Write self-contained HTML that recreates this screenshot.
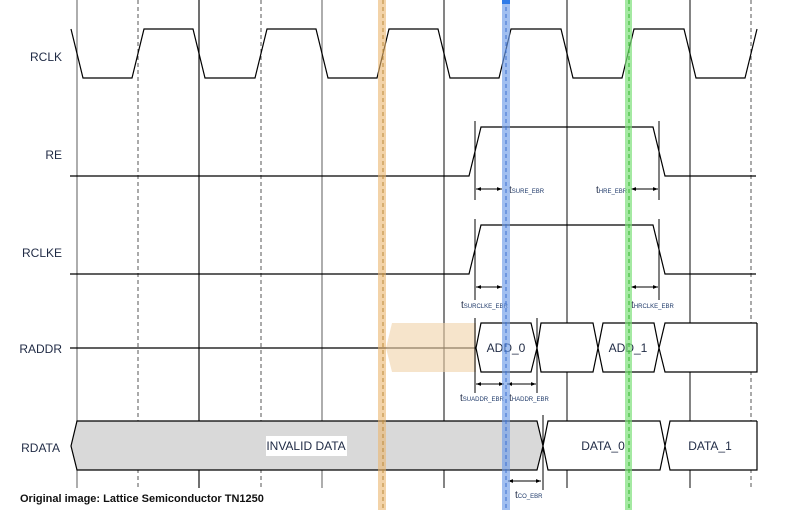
<!DOCTYPE html>
<html><head><meta charset="utf-8"><style>
html,body{margin:0;padding:0;background:#fff;}
svg{display:block;font-family:"Liberation Sans",sans-serif;}
.lbl{font-size:12px;fill:#1f2a44;text-anchor:end;}
.t{font-size:10px;fill:#1f2a44;}
.s{font-size:6px;fill:#1f3a6a;}
</style></head><body>
<svg width="800" height="510" viewBox="0 0 800 510" xmlns="http://www.w3.org/2000/svg">
<defs>
<marker id="a" viewBox="0 0 8 8" refX="8" refY="4" markerWidth="5" markerHeight="5" orient="auto-start-reverse"><path d="M0,1 L8,4 L0,7 z" fill="#000"/></marker>
</defs>
<g stroke-width="1.2">
<line x1="77" y1="0" x2="77" y2="488" stroke="#777"/>
<line x1="199" y1="0" x2="199" y2="488" stroke="#111"/>
<line x1="322" y1="0" x2="322" y2="488" stroke="#777"/>
<line x1="444" y1="0" x2="444" y2="488" stroke="#333"/>
<line x1="567" y1="0" x2="567" y2="488" stroke="#333"/>
<line x1="690" y1="0" x2="690" y2="488" stroke="#333"/>
</g>
<g stroke="#555" stroke-width="1" stroke-dasharray="4,3">
<line x1="138" y1="0" x2="138" y2="488"/>
<line x1="261" y1="0" x2="261" y2="488"/>
<line x1="751" y1="0" x2="751" y2="488"/>
</g>
<text class="lbl" x="62" y="61">RCLK</text>
<text class="lbl" x="62" y="159">RE</text>
<text class="lbl" x="62" y="257">RCLKE</text>
<text class="lbl" x="62" y="353">RADDR</text>
<text class="lbl" x="60" y="452">RDATA</text>
<polyline fill="none" stroke="#000" stroke-width="1.2" points="71,29 83,78 132,78 144,29 193,29 205,78 255,78 267,29 316,29 328,78 377,78 389,29 438,29 450,78 499,78 511,29 561,29 573,78 622,78 634,29 684,29 696,78 745,78 757,29"/>
<polyline fill="none" stroke="#000" stroke-width="1.2" points="70,176 469,176 481,127 653,127 665,176 756,176"/>
<polyline fill="none" stroke="#000" stroke-width="1.2" points="70,274 469,274 481,225 653,225 665,274 756,274"/>
<g stroke="#000" stroke-width="1">
<line x1="475" y1="121" x2="475" y2="200"/><line x1="659" y1="121" x2="659" y2="200"/>
<line x1="475" y1="219" x2="475" y2="300"/><line x1="659" y1="219" x2="659" y2="300"/>
<line x1="476" y1="189" x2="502" y2="189" marker-start="url(#a)" marker-end="url(#a)"/>
<line x1="631" y1="189" x2="658" y2="189" marker-start="url(#a)" marker-end="url(#a)"/>
<line x1="476" y1="287" x2="502" y2="287" marker-start="url(#a)" marker-end="url(#a)"/>
<line x1="631" y1="287" x2="658" y2="287" marker-start="url(#a)" marker-end="url(#a)"/>
</g>
<text x="509" y="193"><tspan class="t">t</tspan><tspan class="s">SURE_EBR</tspan></text>
<text x="596" y="193"><tspan class="t">t</tspan><tspan class="s">HRE_EBR</tspan></text>
<text x="461" y="308"><tspan class="t">t</tspan><tspan class="s">SURCLKE_EBR</tspan></text>
<text x="631" y="308"><tspan class="t">t</tspan><tspan class="s">HRCLKE_EBR</tspan></text>
<line x1="70" y1="348" x2="476" y2="348" stroke="#000" stroke-width="1.2"/>
<polygon points="386,348 392,323 476,323 476,372 392,372" fill="#f0d2a8" opacity="0.6"/>
<g fill="#fff" stroke="#000" stroke-width="1.2">
<polygon points="476,348 481,323 531,323 537,348 531,372 481,372"/>
<polygon points="537,348 541,323 593,323 598,348 593,372 541,372"/>
<polygon points="598,348 603,323 654,323 659,348 654,372 603,372"/>
<polyline points="757,323 665,323 659,348 665,372 757,372 757,323"/>
</g>
<text x="506" y="352" text-anchor="middle" font-size="12" fill="#1f2a44">ADD_0</text>
<text x="628" y="352" text-anchor="middle" font-size="12" fill="#1f2a44">ADD_1</text>
<g stroke="#000" stroke-width="1">
<line x1="475" y1="318" x2="475" y2="393"/><line x1="537" y1="318" x2="537" y2="393"/>
<line x1="476" y1="384" x2="504" y2="384" marker-start="url(#a)" marker-end="url(#a)"/>
<line x1="507" y1="384" x2="536" y2="384" marker-start="url(#a)" marker-end="url(#a)"/>
</g>
<text x="460" y="401"><tspan class="t">t</tspan><tspan class="s">SUADDR_EBR</tspan></text>
<text x="509" y="401"><tspan class="t">t</tspan><tspan class="s">HADDR_EBR</tspan></text>
<polygon points="71,446 77,421 537,421 543,446 537,470 77,470" fill="#d9d9d9" stroke="#000" stroke-width="1.2"/>
<rect x="266" y="436" width="81" height="20" fill="#fff"/>
<text x="306" y="450" text-anchor="middle" font-size="12" fill="#1f2a44">INVALID DATA</text>
<g fill="#fff" stroke="#000" stroke-width="1.2">
<polygon points="543,446 548,421 660,421 665,446 660,470 548,470"/>
<polyline points="757,421 670,421 665,446 670,470 757,470 757,421"/>
</g>
<text x="603" y="450" text-anchor="middle" font-size="12" fill="#1f2a44">DATA_0</text>
<text x="710" y="450" text-anchor="middle" font-size="12" fill="#1f2a44">DATA_1</text>
<g stroke="#000" stroke-width="1">
<line x1="543" y1="415" x2="543" y2="490"/>
<line x1="508" y1="481" x2="541" y2="481" marker-start="url(#a)" marker-end="url(#a)"/>
</g>
<text x="515" y="498"><tspan class="t">t</tspan><tspan class="s">CO_EBR</tspan></text>
<rect x="378" y="0" width="8" height="510" fill="#ebb66e" opacity="0.6"/>
<line x1="383" y1="0" x2="383" y2="510" stroke="#b8893a" stroke-dasharray="4,3"/>
<rect x="502" y="0" width="8" height="510" fill="#6f9ce8" opacity="0.65"/>
<line x1="506" y1="0" x2="506" y2="510" stroke="#3a6fd0" stroke-dasharray="4,3"/>
<rect x="502" y="0" width="8" height="4" fill="#2f7be8"/>
<rect x="625" y="0" width="7" height="510" fill="#7ee07a" opacity="0.7"/>
<line x1="629" y1="0" x2="629" y2="510" stroke="#2fb52a" stroke-dasharray="4,3"/>
<text x="20" y="502" font-size="11" font-weight="bold" fill="#111">Original image: Lattice Semiconductor TN1250</text>
</svg>
</body></html>
